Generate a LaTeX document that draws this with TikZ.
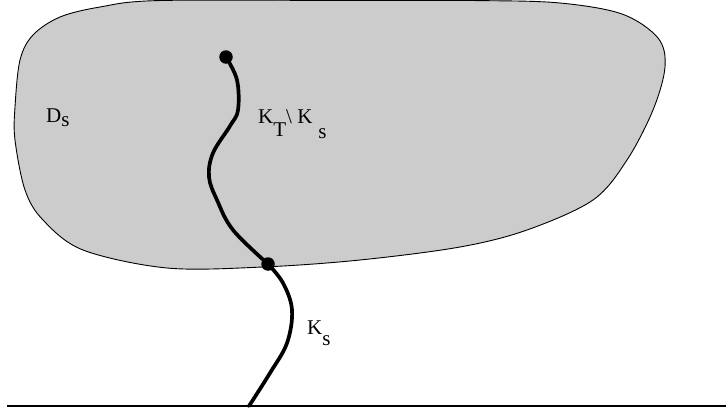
\documentclass[tikz,border=0pt]{standalone}
\usepackage{fontspec}
\setmainfont{Liberation Serif}
\begin{document}
\begin{tikzpicture}[x=1pt,y=-1pt,
  blob/.style={fill={rgb,255:red,204;green,204;blue,204},draw=black,line width=0.9pt},
  knot/.style={line width=3.7pt,line cap=round},
  dotnode/.style={circle,fill=black,inner sep=0pt,minimum size=13.5pt},
  lbl/.style={anchor=base west,inner sep=0pt,font=\fontsize{21}{25}\selectfont},
  ground/.style={line width=1.1pt}]
\useasboundingbox (0,0) rectangle (726,415);
% domain D_s
\draw[blob] plot[smooth cycle,tension=0.55] coordinates {
  (15,107) (15,140) (25,190) (43,220) (83,250) (167,268) (263,267)
  (360,260) (460,247) (527,230) (593,200) (627,160) (653,110) (665,67)
  (658,38) (622,14) (560,3) (480,0.6) (330,0.4) (157,0.6) (100,7)
  (60,17) (33,35) (20,60)};
% ground line
\coordinate (gl) at (7,406);
\coordinate (gr) at (726,406);
\draw[ground] (gl) -- (gr);
% curve
\coordinate (tip) at (226,57);
\coordinate (junc) at (268,264);
\coordinate (foot) at (249,406);
\draw[knot] plot[smooth,tension=0.6] coordinates {
  (tip) (237,80) (238,110) (230,126) (213,153) (209,177) (217,200)
  (233,230) (junc)};
\draw[knot] plot[smooth,tension=0.6] coordinates {
  (junc) (283,283) (292,310) (287,343) (270,373) (foot)};
\node[dotnode] (tipdot) at (tip) {};
\node[dotnode] (juncdot) at (junc) {};
% labels
\node[lbl] (ds) at (46,122) {D\raisebox{-4pt}{s}};
\node[lbl] (kt) at (258,123) {K\raisebox{-13pt}{T}\textbackslash{} K\hspace{6pt}\raisebox{-15pt}{s}};
\node[lbl] (ks) at (307,334) {K\raisebox{-11pt}{s}};
\end{tikzpicture}
\end{document}
